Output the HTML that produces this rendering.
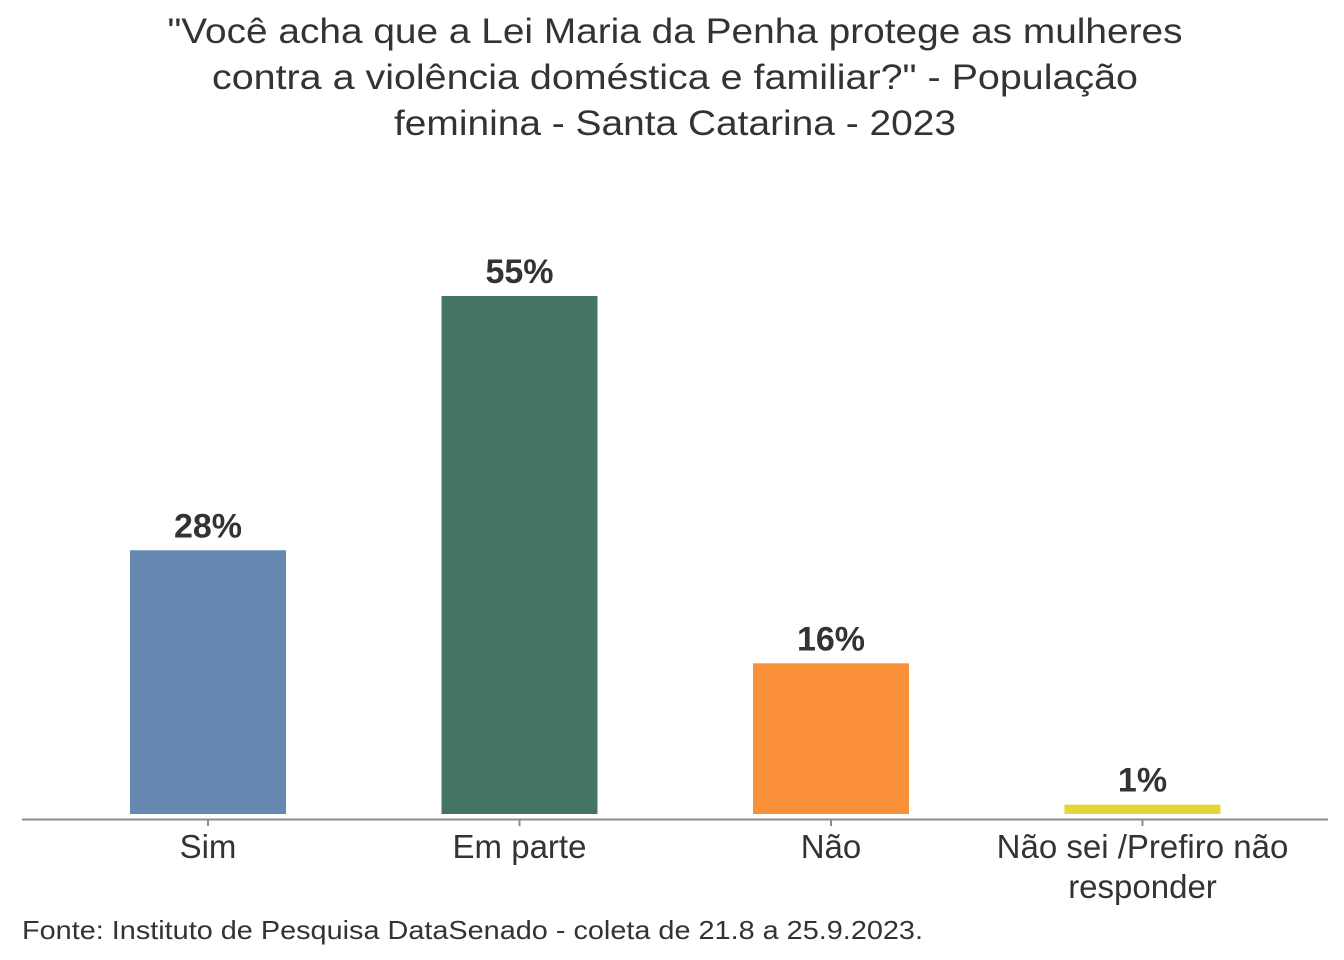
<!DOCTYPE html>
<html><head><meta charset="utf-8"><style>
body{margin:0;background:#fff;width:1344px;height:960px;overflow:hidden}
svg{display:block;font-family:"Liberation Sans",sans-serif}
</style></head><body>
<svg width="1344" height="960">
<g fill="#333" font-size="35" text-anchor="middle">
<text x="675" y="43" textLength="1015" lengthAdjust="spacingAndGlyphs">"Você acha que a Lei Maria da Penha protege as mulheres</text>
<text x="675" y="89" textLength="926" lengthAdjust="spacingAndGlyphs">contra a violência doméstica e familiar?" - População</text>
<text x="675" y="135" textLength="562" lengthAdjust="spacingAndGlyphs">feminina - Santa Catarina - 2023</text>
</g>
<g id="bars"></g>
<line x1="22" y1="819.5" x2="1328" y2="819.5" stroke="#8c8c8c" stroke-width="2"/>
<g id="xaxis"></g>
<text x="22" y="939" font-size="26" fill="#333" textLength="901" lengthAdjust="spacingAndGlyphs">Fonte: Instituto de Pesquisa DataSenado - coleta de 21.8 a 25.9.2023.</text>
</svg>
<script>
const categories=["Sim","Em parte","Não","Não sei /Prefiro não|responder"];
const values=[28,55,16,1];
const valueLabels=["28%","55%","16%","1%"];
const colors=["#6688b0","#447563","#fb903a","#e2d63a"];
const NS="http://www.w3.org/2000/svg";
const y=v=>814-v*(518/55);
const x=i=>208+i*311.5;
const bw=156;
const bars=document.getElementById('bars'),xa=document.getElementById('xaxis');
values.forEach((v,i)=>{
 const r=document.createElementNS(NS,'rect');
 r.setAttribute('x',x(i)-bw/2);r.setAttribute('y',y(v));r.setAttribute('width',bw);r.setAttribute('height',814-y(v));r.setAttribute('fill',colors[i]);
 
 
 bars.appendChild(r);
 const t=document.createElementNS(NS,'text');
 t.setAttribute('x',x(i));t.setAttribute('y',y(v)-13);t.setAttribute('text-anchor','middle');t.setAttribute('font-size','34');t.setAttribute('font-weight','bold');t.setAttribute('fill','#333');
 t.textContent=valueLabels[i];
 
 
 bars.appendChild(t);
 const tk=document.createElementNS(NS,'line');
 tk.setAttribute('x1',x(i));tk.setAttribute('x2',x(i));tk.setAttribute('y1',820);tk.setAttribute('y2',826);tk.setAttribute('stroke','#8c8c8c');tk.setAttribute('stroke-width','2');
 
 
 xa.appendChild(tk);
 categories[i].split('|').forEach((ln,j)=>{
  const l=document.createElementNS(NS,'text');
  l.setAttribute('x',x(i));l.setAttribute('y',858+j*40);l.setAttribute('text-anchor','middle');l.setAttribute('font-size','33');l.setAttribute('fill','#333');
  l.textContent=ln;
  
  
  xa.appendChild(l);
 });
});
</script>
</body></html>
